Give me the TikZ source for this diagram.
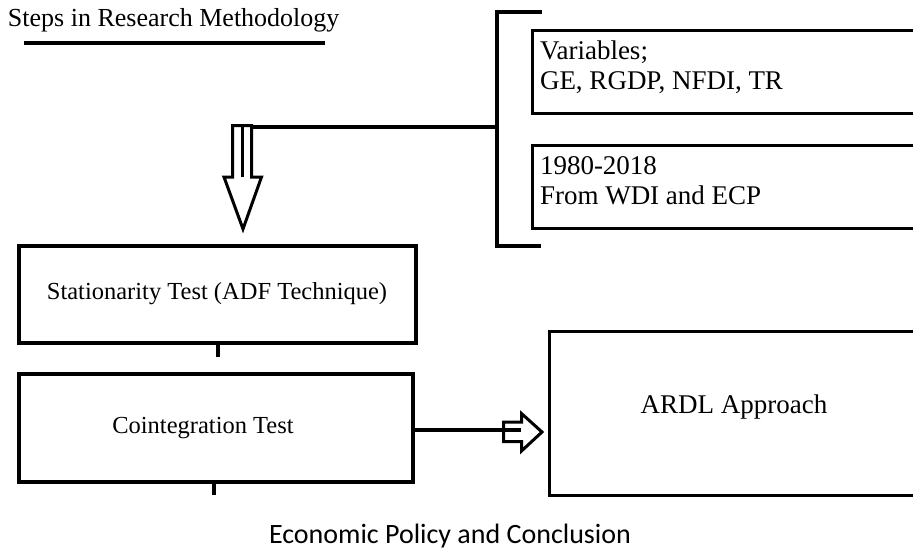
\documentclass[tikz,border=0pt]{standalone}
\usepackage{fontspec}
\setmainfont{Liberation Serif}
\newfontfamily\calib{Carlito}
\begin{document}
\begin{tikzpicture}[x=1pt,y=-1pt,
  box/.style={draw=black,line width=3.8pt,rectangle,inner sep=0pt},
  txt/.style={inner sep=0pt,outer sep=0pt},
  thick line/.style={line width=3.6pt},
  hollow/.style={draw=black,fill=white,line width=3pt,line join=miter}]
\useasboundingbox (0,0) rectangle (913,550);
\begin{scope}
\clip (0,0) rectangle (913,550);
% title
\node[txt,anchor=base west,font=\fontsize{26}{30}\selectfont] (title) at (8,26) {Steps in Research Methodology};
\coordinate (ulA) at (24,43);
\coordinate (ulB) at (325,43);
\draw[line width=4pt] (ulA) -- (ulB);
% bracket
\coordinate (brT) at (542,12);
\coordinate (brTL) at (497,12);
\coordinate (brBL) at (497,246);
\coordinate (brB) at (541,246);
\coordinate (brM) at (497,127);
\draw[thick line,line join=miter] (brT) -- (brTL) -- (brBL) -- (brB);
% right boxes
\draw[box] (532.5,30.5) rectangle (960,113.5);
\node[txt,anchor=base west,align=left,font=\fontsize{27}{29.5}\selectfont] (vartext) at (540,89) {Variables;\\GE, RGDP, NFDI, TR};
\draw[box] (532.5,145.5) rectangle (960,228.5);
\node[txt,anchor=base west,align=left,font=\fontsize{27}{29.5}\selectfont] (srctext) at (540,204) {1980-2018\\From WDI and ECP};
% down hollow arrow
\coordinate (dA) at (252,127);
\draw[thick line] (brM) -- (dA);
\draw[hollow] (232.5,125.5) -- (251.5,125.5) -- (251.5,177) -- (261.5,177) -- (243,229) -- (224,177) -- (232.5,177) -- cycle;
\draw[line width=3pt] (242,125.5) -- (242,177);
% stationarity
\node[box,minimum width=397pt,minimum height=97pt] (stat) at (217.5,294.5) {};
\node[txt,anchor=base,font=\fontsize{24.5}{28}\selectfont] (stattext) at (217,299) {Stationarity Test (ADF Technique)};
\coordinate (t1) at (218,357);
\draw[line width=4pt] (218,343) -- (t1);
% cointegration
\node[box,minimum width=394pt,minimum height=108pt] (coint) at (216,428) {};
\node[txt,anchor=base,font=\fontsize{24.5}{28}\selectfont] (cointtext) at (203,433) {Cointegration Test};
\coordinate (t2) at (214,495);
\draw[line width=4pt] (214,482) -- (t2);
% ARDL
\draw[box] (549.5,331.5) rectangle (960,495.5);
\node[txt,anchor=base,font=\fontsize{27}{30}\selectfont] (ardl) at (734,413) {ARDL Approach};
% right hollow arrow
\coordinate (rA) at (521,430);
\draw[hollow,fill=none] (503.5,422) -- (521.5,422) -- (521.5,413.5) -- (542,432) -- (521.5,451) -- (521.5,441.5) -- (503.5,441.5) -- cycle;
\draw[thick line] (coint.east |- rA) -- (rA);
% bottom text
\node[txt,anchor=base,font=\calib\fontsize{28}{30}\selectfont] (econ) at (450,543) {Economic Policy and Conclusion};
\end{scope}
\end{tikzpicture}
\end{document}
